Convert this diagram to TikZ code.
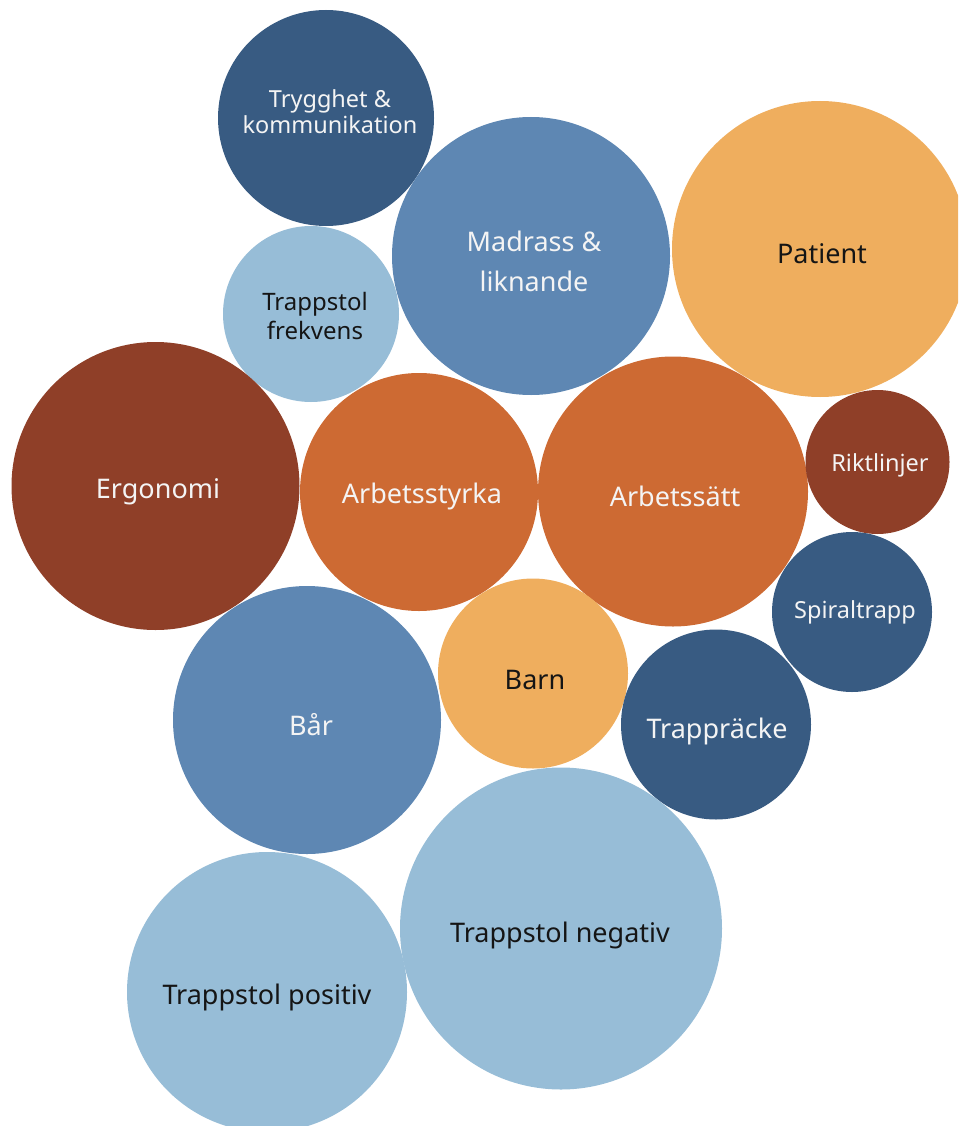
\documentclass[tikz,border=0pt]{standalone}
\usepackage{fontspec}
\setmainfont{Noto Sans}
\definecolor{dblue}{HTML}{385B82}
\definecolor{mblue}{HTML}{5E87B3}
\definecolor{lblue}{HTML}{97BDD7}
\definecolor{orng}{HTML}{CD6A33}
\definecolor{brwn}{HTML}{8F3F28}
\definecolor{lorng}{HTML}{EFAE5E}
\definecolor{wtxt}{HTML}{F4F4F4}
\definecolor{btxt}{HTML}{151515}
\begin{document}
\begin{tikzpicture}[x=1pt,y=-1pt,
  bubble/.style={circle,draw=none,inner sep=0pt,minimum size=#1},
  lbl/.style={inner sep=0pt,align=center,font=\fontsize{27}{40}\selectfont},
  slbl/.style={inner sep=0pt,align=center,font=\fontsize{23.5}{26}\selectfont}]
\useasboundingbox (0,0) rectangle (958,1126);
\clip (0,0) rectangle (958,1126);
% circles
\node[bubble=216pt,fill=dblue] (tryg) at (326,118) {};
\node[bubble=278pt,fill=mblue] (madr) at (531,256) {};
\node[bubble=296pt,fill=lorng] (pat) at (820,249) {};
\node[bubble=176pt,fill=lblue] (tfrek) at (311,314) {};
\node[bubble=288pt,fill=brwn] (ergo) at (155.5,486) {};
\node[bubble=238pt,fill=orng] (astyr) at (419,492) {};
\node[bubble=270pt,fill=orng] (asatt) at (673,491.5) {};
\node[bubble=144pt,fill=brwn] (rikt) at (877.5,462) {};
\node[bubble=160pt,fill=dblue] (spir) at (852,612) {};
\node[bubble=190pt,fill=lorng] (barn) at (533,673.5) {};
\node[bubble=268pt,fill=mblue] (bar) at (307,720) {};
\node[bubble=190pt,fill=dblue] (trapr) at (716,724.5) {};
\node[bubble=322pt,fill=lblue] (tneg) at (561,928.5) {};
\node[bubble=280pt,fill=lblue] (tpos) at (267,992) {};
% labels
\node[slbl,text=wtxt] (tryg-t) at (330,112) {Trygghet \&\\kommunikation};
\node[lbl,text=wtxt] (madr-t) at (534,261) {Madrass \&\\liknande};
\node[lbl,text=btxt] (pat-t) at (822,254) {Patient};
\node[slbl,text=btxt,font=\fontsize{24}{29}\selectfont] (tfrek-t) at (315,316) {Trappstol\\frekvens};
\node[lbl,text=wtxt] (ergo-t) at (158,492) {Ergonomi};
\node[lbl,text=wtxt] (astyr-t) at (422,496) {Arbetsstyrka};
\node[lbl,text=wtxt] (asatt-t) at (675,496) {Arbetssätt};
\node[slbl,text=wtxt] (rikt-t) at (880,465) {Riktlinjer};
\node[slbl,text=wtxt] (spir-t) at (855,612) {Spiraltrapp};
\node[lbl,text=btxt] (barn-t) at (535,680) {Barn};
\node[lbl,text=wtxt] (bar-t) at (311,725) {Bår};
\node[lbl,text=wtxt] (trapr-t) at (717,731) {Trappräcke};
\node[lbl,text=btxt] (tneg-t) at (560,935) {Trappstol negativ};
\node[lbl,text=btxt] (tpos-t) at (267,997) {Trappstol positiv};
\end{tikzpicture}
\end{document}
